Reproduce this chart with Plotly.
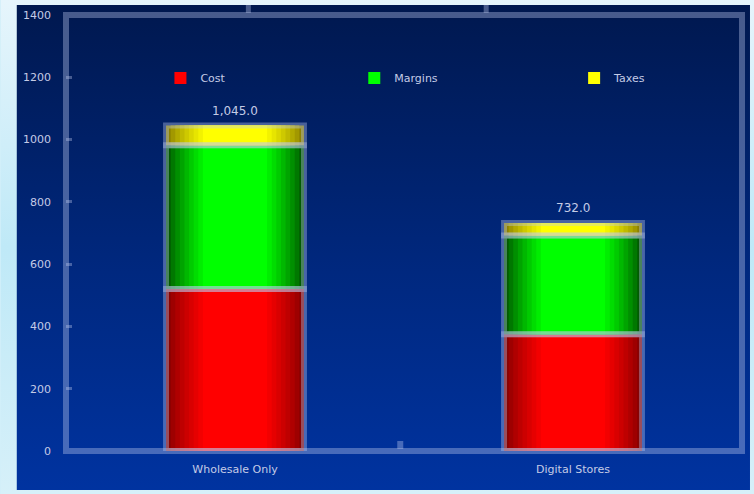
import base64
import plotly.graph_objects as go

# ---------------- data ----------------
categories = ["Wholesale Only", "Digital Stores"]
series_names = ["Cost", "Margins", "Taxes"]
cost = [520, 375]
margins = [462, 317]
taxes = [63, 40]
y_tick_values = [0, 200, 400, 600, 800, 1000, 1200, 1400]

# ---------------- styles ----------------
series_values = [cost, margins, taxes]
dark_rgb = [(135, 0, 0), (0, 88, 0), (140, 128, 0)]
bright_rgb = [(255, 0, 0), (0, 255, 0), (255, 255, 0)]
N_LAYERS = 9
W_MAX, W_MIN = 0.408, 0.19
TEXT_COLOR = "#c4cbe6"
BAND = "rgba(190,202,238,0.38)"
FONT = "DejaVu Sans"


def rgb(c):
    return "rgb(%d,%d,%d)" % c


def mix(a, b, t):
    return tuple(round(a[i] + (b[i] - a[i]) * t) for i in range(3))


fig = go.Figure()

bases = [0] * len(categories)
legend_ids = ["legend", "legend2", "legend3"]
for s, (name, vals) in enumerate(zip(series_names, series_values)):
    for k in range(N_LAYERS):
        t = k / (N_LAYERS - 1)
        w = W_MAX - (W_MAX - W_MIN) * t
        col = mix(dark_rgb[s], bright_rgb[s], t ** 0.8)
        fig.add_trace(go.Bar(
            x=categories, y=vals, base=list(bases), width=w,
            name=name, marker=dict(color=rgb(col), line=dict(width=0)),
            showlegend=(k == N_LAYERS - 1), legend=legend_ids[s],
            hoverinfo="skip",
        ))
    bases = [b + v for b, v in zip(bases, vals)]

# outlines (light translucent borders)
bases = [0] * len(categories)
for s, vals in enumerate(series_values):
    fig.add_trace(go.Bar(
        x=categories, y=vals, base=list(bases), width=W_MAX,
        marker=dict(color="rgba(0,0,0,0)", line=dict(width=6, color=BAND)),
        showlegend=False, hoverinfo="skip",
    ))
    bases = [b + v for b, v in zip(bases, vals)]

totals = bases
for cat, tot in zip(categories, totals):
    fig.add_annotation(
        x=cat, y=tot, text="{:,.1f}".format(tot), showarrow=False,
        yanchor="bottom", yshift=6,
        font=dict(family=FONT, size=12, color=TEXT_COLOR),
    )

# ---------------- background images (gradients) ----------------
def svg_uri(svg):
    return "data:image/svg+xml;base64," + base64.b64encode(svg.encode()).decode()

outer_svg = (
    '<svg xmlns="http://www.w3.org/2000/svg" width="100" height="100" preserveAspectRatio="none">'
    '<defs><linearGradient id="g" x1="0" y1="0" x2="0" y2="1">'
    '<stop offset="0" stop-color="#e6f5fc"/><stop offset="0.5" stop-color="#bfe9f7"/>'
    '<stop offset="1" stop-color="#d6f0f9"/></linearGradient></defs>'
    '<rect width="100" height="100" fill="url(#g)"/></svg>'
)
panel_svg = (
    '<svg xmlns="http://www.w3.org/2000/svg" width="100" height="100" preserveAspectRatio="none">'
    '<defs><linearGradient id="g" x1="0" y1="0" x2="0" y2="1">'
    '<stop offset="0" stop-color="#00184f"/><stop offset="0.55" stop-color="#00287f"/>'
    '<stop offset="1" stop-color="#0033a0"/></linearGradient></defs>'
    '<rect width="100" height="100" fill="url(#g)"/></svg>'
)

W, H = 754, 494
L, R, T, B = 65.5, 12, 15, 43
pw, ph = W - L - R, H - T - B


def px_x(x):
    return (x - L) / pw


def px_y(y):
    return (H - B - y) / ph


fig.update_layout(
    images=[
        dict(source=svg_uri(outer_svg), xref="paper", yref="paper",
             x=px_x(0), y=px_y(0), sizex=W / pw, sizey=H / ph,
             sizing="stretch", layer="below", xanchor="left", yanchor="top"),
        dict(source=svg_uri(panel_svg), xref="paper", yref="paper",
             x=px_x(16), y=px_y(5), sizex=734 / pw, sizey=485 / ph,
             sizing="stretch", layer="below", xanchor="left", yanchor="top"),
    ],
    shapes=[
        dict(type="rect", xref="paper", yref="paper", x0=0, x1=1, y0=0, y1=1,
             line=dict(width=6, color=BAND), layer="above"),
        dict(type="line", xref="paper", yref="paper", x0=px_x(248), x1=px_x(248),
             y0=px_y(5), y1=px_y(13), line=dict(width=5, color=BAND)),
        dict(type="line", xref="paper", yref="paper", x0=px_x(486), x1=px_x(486),
             y0=px_y(5), y1=px_y(13), line=dict(width=5, color=BAND)),
        dict(type="line", xref="paper", yref="paper", x0=px_x(400), x1=px_x(400),
             y0=px_y(441), y1=px_y(449), line=dict(width=6, color=BAND)),
    ],
)

legend_common = dict(orientation="h", yanchor="middle", xanchor="left",
                     bgcolor="rgba(0,0,0,0)", borderwidth=0,
                     font=dict(family=FONT, size=11, color=TEXT_COLOR),
                     itemwidth=30)
fig.update_layout(
    legend=dict(x=px_x(160), y=px_y(78), **legend_common),
    legend2=dict(x=px_x(354), y=px_y(78), **legend_common),
    legend3=dict(x=px_x(574), y=px_y(78), **legend_common),
)

fig.update_layout(
    width=W, height=H,
    margin=dict(l=L, r=R, t=T, b=B, pad=0, autoexpand=False),
    paper_bgcolor="#d2eff9",
    plot_bgcolor="rgba(0,0,0,0)",
    barmode="overlay",
    font=dict(family=FONT, size=11, color=TEXT_COLOR),
    xaxis=dict(type="category", range=[-0.5, 1.5], showgrid=False, zeroline=False,
               showline=False, ticks="", automargin=False,
               tickfont=dict(family=FONT, size=11, color=TEXT_COLOR),
               ticklabelstandoff=10),
    yaxis=dict(range=[0, 1400], tickvals=y_tick_values, showgrid=False, zeroline=False,
               showline=False, ticks="inside", ticklen=6, tickwidth=3, automargin=False,
               tickcolor="rgba(200,210,240,0.35)",
               tickfont=dict(family=FONT, size=11, color=TEXT_COLOR),
               ticklabelstandoff=14),
)

fig.write_html("out.html", config={"displayModeBar": False},
               post_script="document.body.style.margin='0';")
